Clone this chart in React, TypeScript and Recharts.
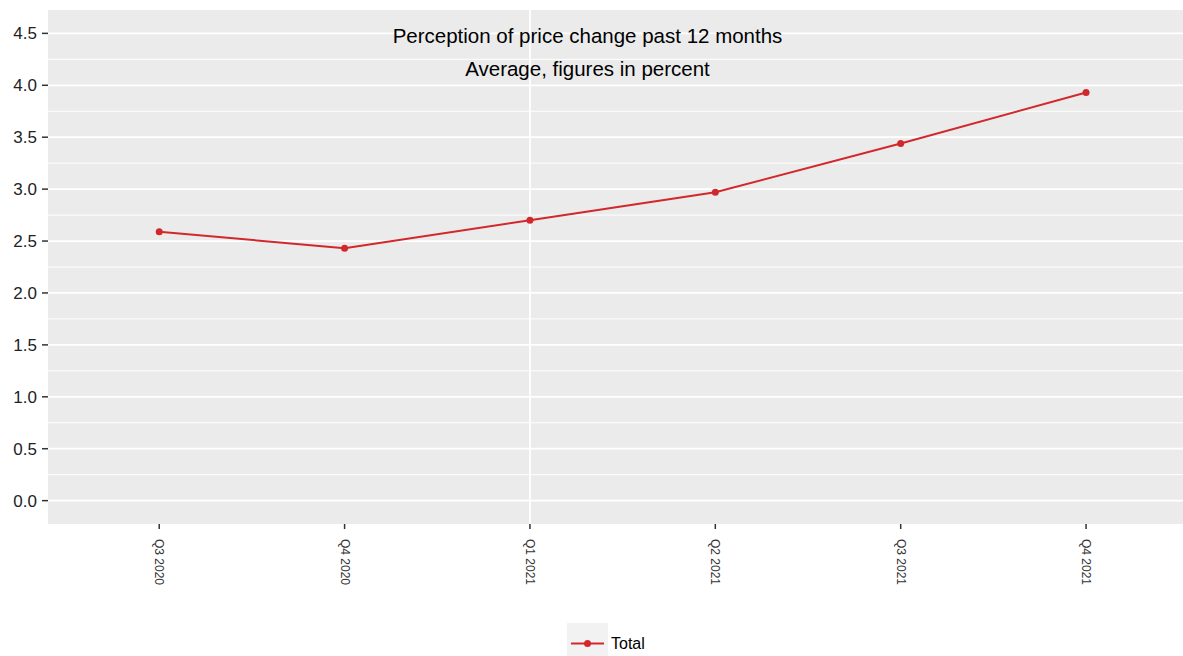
import React from "react"
import { LineChart, Line, XAxis, YAxis, CartesianGrid, ReferenceLine } from "recharts"

const quarters = ["Q3 2020", "Q4 2020", "Q1 2021", "Q2 2021", "Q3 2021", "Q4 2021"]
const totals = [2.59, 2.43, 2.7, 2.97, 3.44, 3.93]
const majorTicks = [0, 0.5, 1, 1.5, 2, 2.5, 3, 3.5, 4, 4.5]
const minorTicks = [0.25, 0.75, 1.25, 1.75, 2.25, 2.75, 3.25, 3.75, 4.25]
const titleLines = ["Perception of price change past 12 months", "Average, figures in percent"]

const data = quarters.map((q, i) => ({ idx: i, name: q, value: totals[i] }))

const RED = "#d2282c"
const FONT = "'Liberation Sans', Arial, sans-serif"

const XTick = (props: any) => {
  const { x, y, payload } = props
  return (
    <text
      transform={`translate(${x},${y + 8}) rotate(90)`}
      textAnchor="start"
      dominantBaseline="central"
      fontSize={12}
      fontFamily={FONT}
      fill="#333"
    >
      {quarters[payload.value]}
    </text>
  )
}

export default function App() {
  return (
    <div style={{ position: "absolute", left: 0, top: 0, width: 1183, height: 656, fontFamily: FONT }}>
      <LineChart width={1183} height={656} data={data} margin={{ top: 10, right: 0, bottom: 0, left: 0 }}>
        <CartesianGrid fill="#ebebeb" stroke="#fff" strokeWidth={1} horizontal={false} vertical={false} />
        {minorTicks.map((v) => (
          <ReferenceLine key={"mi" + v} y={v} stroke="#fff" strokeWidth={1} />
        ))}
        {majorTicks.map((v) => (
          <ReferenceLine key={"ma" + v} y={v} stroke="#fff" strokeWidth={1.8} />
        ))}
        <ReferenceLine x={2} stroke="#fff" strokeWidth={1.8} />
        <XAxis
          type="number"
          dataKey="idx"
          domain={[-0.6, 5.523]}
          ticks={[0, 1, 2, 3, 4, 5]}
          allowDataOverflow
          axisLine={false}
          tickSize={5}
          tickLine={{ stroke: "#333", strokeWidth: 1.5 }}
          tick={<XTick />}
          height={132}
        />
        <YAxis
          type="number"
          domain={[-0.225, 4.725]}
          ticks={majorTicks}
          allowDataOverflow
          width={48}
          axisLine={false}
          tickSize={6}
          tickLine={{ stroke: "#333", strokeWidth: 1.5 }}
          tickFormatter={(v: number) => v.toFixed(1)}
          tick={{ fill: "#222", fontSize: 17, fontFamily: FONT, dx: -3 }}
        />
        <Line
          type="linear"
          dataKey="value"
          stroke={RED}
          strokeWidth={2}
          dot={{ r: 3.5, fill: RED, stroke: RED, strokeWidth: 0 }}
          isAnimationActive={false}
        />
      </LineChart>
      <div style={{ position: "absolute", left: 0, width: 1175, top: 19, textAlign: "center", fontSize: 20.5, lineHeight: "33px", color: "#000" }}>
        {titleLines.map((t) => (
          <div key={t}>{t}</div>
        ))}
      </div>
      <div style={{ position: "absolute", left: 567, top: 623, display: "flex", alignItems: "center" }}>
        <svg width={41} height={33}>
          <rect x={0} y={0} width={41} height={33} fill="#f2f2f2" />
          <line x1={4} y1={20.5} x2={37} y2={20.5} stroke={RED} strokeWidth={2} />
          <circle cx={20.5} cy={20.5} r={3.5} fill={RED} />
        </svg>
        <span style={{ fontSize: 16, marginLeft: 3, marginTop: 8, color: "#000" }}>Total</span>
      </div>
    </div>
  )
}
